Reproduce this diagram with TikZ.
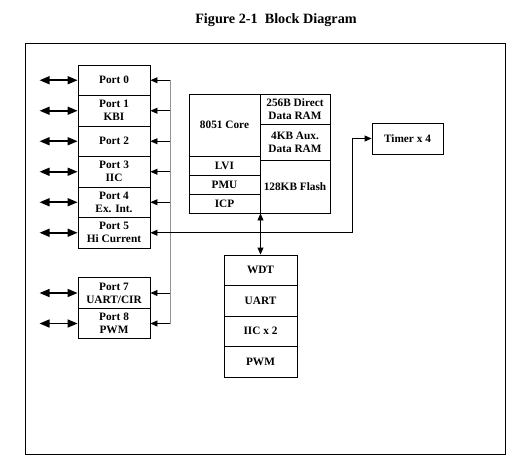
\documentclass[tikz,border=0pt]{standalone}
\usepackage{fontspec}
\setmainfont{Liberation Serif}
\usetikzlibrary{arrows.meta,calc}
\begin{document}
\begin{tikzpicture}[x=1pt,y=-1pt,
  blk/.style={draw,line width=0.9pt,rectangle,inner sep=0pt,align=center,
    font=\fontsize{11.3}{13}\selectfont\bfseries},
  port/.style={blk,minimum width=72pt,minimum height=30.5pt},
  lcol/.style={blk,minimum width=71pt},
  rcol/.style={blk,minimum width=70pt},
  per/.style={blk,minimum width=73pt,minimum height=30.5pt},
  io/.style={line width=1.6pt,{Triangle[length=10pt,width=8pt]}-{Triangle[length=10pt,width=8pt]}},
  feed/.style={line width=0.9pt,-{Triangle[length=7pt,width=6pt]}},
  dbl/.style={line width=0.9pt,{Triangle[length=7pt,width=6pt]}-{Triangle[length=7pt,width=6pt]}},
  busline/.style={line width=1.4pt,gray!85}]
\useasboundingbox (0,0) rectangle (526,468);
\node[font=\fontsize{14.2}{16}\selectfont\bfseries] (title) at (276,20) {Figure 2-1\ \ Block Diagram};
\node[draw,line width=0.9pt,inner sep=0pt,minimum width=480pt,minimum height=411pt] (frame) at (265,248.5) {};
% ports
\node[port] (p0) at (114,80.25) {Port 0};
\node[port] (p1) at (114,110.75) {Port 1\\KBI};
\node[port] (p2) at (114,141.25) {Port 2};
\node[port] (p3) at (114,171.75) {Port 3\\IIC};
\node[port] (p4) at (114,202.25) {Port 4\\Ex. Int.};
\node[port] (p5) at (114,232.75) {Port 5\\Hi Current};
\node[port] (p7) at (114,293) {Port 7\\UART/CIR};
\node[port] (p8) at (114,323.5) {Port 8\\PWM};
% core
\node[lcol,minimum height=62pt] (core) at (224.5,125) {8051 Core};
\node[lcol,minimum height=19pt] (lvi) at (224.5,165.5) {LVI};
\node[lcol,minimum height=19pt] (pmu) at (224.5,184.5) {PMU};
\node[lcol,minimum height=19pt] (icp) at (224.5,203.5) {ICP};
\node[rcol,minimum height=30pt] (dram) at (295,109) {256B Direct\\Data RAM};
\node[rcol,minimum height=36pt] (xram) at (295,142) {4KB Aux.\\Data RAM};
\node[rcol,minimum height=53pt] (flash) at (295,186.5) {128KB Flash};
% peripherals
\node[per] (wdt) at (260.5,270.25) {WDT};
\node[per] (uart) at (260.5,300.75) {UART};
\node[per] (iic) at (260.5,331.25) {IIC x 2};
\node[per] (pwm) at (260.5,361.75) {PWM};
% timer
\node[blk,minimum width=71pt,minimum height=31pt] (timer) at (407.5,138.5) {Timer x 4};
% external IO arrows
\foreach \p in {p0,p1,p2,p3,p4,p5,p7,p8}{
  \coordinate (ext-\p) at ($(\p.west)+(-38,0)$);
  \coordinate (bus-\p) at ($(\p.east)+(20,0)$);
  \draw[io] (ext-\p) -- (\p.west);
}
\draw[busline] (bus-p0) -- (bus-p8);
\foreach \p in {p0,p1,p2,p3,p4,p5,p7,p8}{
  \draw[feed] (bus-\p) -- (\p.east);
}
\coordinate (turn) at (352,232.75);
\draw[feed] (bus-p5) -- (turn) |- (timer.west);
\draw[dbl] (wdt.north |- flash.south) -- (wdt.north);
\end{tikzpicture}
\end{document}
